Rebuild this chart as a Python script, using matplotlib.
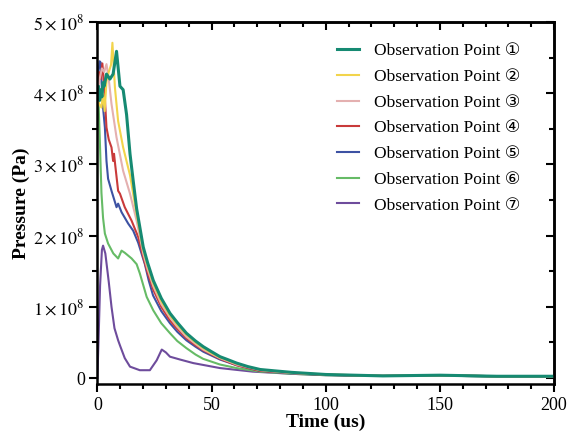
import numpy as np
import matplotlib
matplotlib.use('Agg')
import matplotlib.pyplot as plt
from matplotlib.ticker import MultipleLocator, FuncFormatter

plt.rcParams['font.family'] = ['Liberation Serif', 'DejaVu Sans']
plt.rcParams['mathtext.fontset'] = 'stix'

# pressure in units of 1e8 Pa, time in us
t1 = [0, 0.5, 1, 1.5, 2, 2.5, 3, 4, 5.5, 6.9, 8.4, 9.9, 11.3, 12.8, 14.3, 15.7, 17.2, 20.1, 22, 24.5, 28, 31.8, 35, 39, 43, 46.4, 50, 53.7, 57, 61, 66, 71.3, 78, 85, 90, 100, 125, 150, 175, 200]
p1 = [4.0, 4.1, 3.9, 4.05, 3.95, 4.15, 4.1, 4.27, 4.2, 4.27, 4.59, 4.1, 4.05, 3.7, 3.15, 2.77, 2.38, 1.84, 1.62, 1.37, 1.12, 0.91, 0.78, 0.63, 0.52, 0.44, 0.37, 0.30, 0.26, 0.21, 0.16, 0.12, 0.1, 0.08, 0.07, 0.05, 0.03, 0.04, 0.025, 0.025]

t2 = [0, 0.8, 1.8, 2.5, 3.2, 4, 5, 6, 6.6, 7.7, 9.1, 11.3, 14.3, 17.2, 20.1, 22, 24.5, 28, 31.8, 35, 39, 43, 46.4, 50, 53.7, 61, 71.3, 85, 100, 125, 150, 175, 200]
p2 = [3.95, 3.85, 3.8, 4.0, 3.75, 4.17, 4.3, 4.4, 4.71, 4.08, 3.61, 3.24, 2.85, 2.3, 1.8, 1.58, 1.33, 1.08, 0.88, 0.75, 0.61, 0.5, 0.42, 0.35, 0.29, 0.2, 0.115, 0.075, 0.05, 0.03, 0.04, 0.025, 0.025]

t3 = [0, 1, 2, 3, 4, 5, 6.2, 8.4, 11.3, 14.3, 17.2, 20.1, 22, 24.5, 28, 31.8, 35, 39, 43, 46.4, 53.7, 61, 71.3, 85, 100, 125, 150, 175, 200]
p3 = [4.0, 4.2, 4.35, 4.3, 4.41, 4.2, 3.85, 3.38, 2.91, 2.59, 2.21, 1.75, 1.53, 1.29, 1.04, 0.85, 0.72, 0.58, 0.48, 0.4, 0.28, 0.19, 0.11, 0.07, 0.05, 0.03, 0.04, 0.025, 0.025]

t4 = [0, 0.7, 1.5, 2.2, 3, 4, 5, 6.2, 6.9, 7.3, 7.8, 9.1, 9.9, 12, 15, 17.9, 20.1, 22, 24.5, 28, 31.8, 35, 39, 43, 46.4, 53.7, 61, 71.3, 85, 100, 125, 150, 175, 200]
p4 = [4.05, 4.3, 4.2, 4.42, 4.1, 3.52, 3.35, 3.24, 3.05, 3.15, 3.0, 2.63, 2.59, 2.4, 2.21, 1.98, 1.7, 1.48, 1.24, 1.0, 0.81, 0.69, 0.56, 0.46, 0.39, 0.27, 0.18, 0.1, 0.07, 0.045, 0.03, 0.04, 0.025, 0.025]

t5 = [0, 0.5, 1, 1.5, 1.8, 2.5, 3.3, 4, 4.7, 6.2, 8.4, 9.1, 10.6, 13.5, 15.7, 17.9, 20.8, 22.5, 24.4, 28, 31.8, 35, 39, 43, 46.4, 53.7, 61, 71.3, 85, 100, 125, 150, 175, 200]
p5 = [4.1, 4.3, 4.45, 4.43, 4.17, 3.8, 3.52, 3.05, 2.8, 2.63, 2.4, 2.45, 2.33, 2.17, 2.07, 1.9, 1.6, 1.37, 1.16, 0.94, 0.77, 0.65, 0.53, 0.44, 0.37, 0.26, 0.18, 0.1, 0.065, 0.045, 0.03, 0.04, 0.025, 0.025]

t6 = [0, 0.5, 1.1, 1.8, 2.5, 3.3, 4.7, 7, 9.1, 10.6, 12, 15, 17.2, 18.6, 21.6, 24.5, 28, 31.8, 35, 39, 43, 46.3, 53.7, 61, 71.3, 85, 100, 125, 150, 175, 200]
p6 = [4.1, 3.9, 3.33, 2.6, 2.25, 2.03, 1.89, 1.75, 1.68, 1.79, 1.76, 1.68, 1.6, 1.47, 1.14, 0.95, 0.77, 0.63, 0.52, 0.42, 0.33, 0.27, 0.19, 0.14, 0.09, 0.06, 0.04, 0.03, 0.035, 0.02, 0.02]

t7 = [0, 0.5, 1.2, 2, 2.5, 3.5, 5, 6.2, 7.5, 9.1, 10, 12, 14.3, 18.6, 23, 26, 28.2, 30, 31.8, 36.2, 42, 53.7, 68, 85, 100, 125, 150, 175, 200]
p7 = [0, 0.5, 1.3, 1.8, 1.86, 1.75, 1.35, 1.0, 0.7, 0.53, 0.45, 0.28, 0.16, 0.11, 0.11, 0.25, 0.40, 0.36, 0.3, 0.26, 0.21, 0.14, 0.09, 0.06, 0.04, 0.03, 0.035, 0.02, 0.02]

labels = ['Observation Point \u2460', 'Observation Point \u2461', 'Observation Point \u2462',
          'Observation Point \u2463', 'Observation Point \u2464', 'Observation Point \u2465',
          'Observation Point \u2466']
colors = ['#168a72', '#f2d44c', '#e4b0b0', '#c93a3a', '#3d52a3', '#66bb66', '#6e4c9c']
widths = [2.2, 1.5, 1.5, 1.5, 1.5, 1.5, 1.5]

series = [(t1, p1), (t2, p2), (t3, p3), (t4, p4), (t5, p5), (t6, p6), (t7, p7)]

fig = plt.figure(figsize=(5.76, 4.34), dpi=100)
ax = fig.add_axes([0.169, 0.115, 0.793, 0.834])

# draw back to front so teal is on top like the original
for i in range(len(series) - 1, -1, -1):
    t, p = series[i]
    ax.plot(t, np.array(p) * 1e8, color=colors[i], lw=widths[i], label=labels[i])

ax.set_xlim(0, 200)
ax.set_ylim(-0.085e8, 5e8)

ax.xaxis.set_major_locator(MultipleLocator(50))
ax.xaxis.set_minor_locator(MultipleLocator(10))
ax.yaxis.set_major_locator(MultipleLocator(1e8))
ax.yaxis.set_minor_locator(MultipleLocator(0.5e8))
ax.yaxis.set_major_formatter(FuncFormatter(
    lambda v, pos: '0' if abs(v) < 1 else r'$%d\times10^{8}$' % round(v / 1e8)))

ax.tick_params(which='major', direction='out', length=6, width=1.5, labelsize=13, pad=3)
ax.tick_params(which='minor', direction='out', length=3.5, width=1.5)

secx = ax.secondary_xaxis('top')
secx.xaxis.set_major_locator(MultipleLocator(50))
secx.xaxis.set_minor_locator(MultipleLocator(10))
secx.tick_params(which='major', direction='in', length=6, width=1.5, labeltop=False)
secx.tick_params(which='minor', direction='in', length=3.5, width=1.5)
secx.spines['top'].set_linewidth(1.8)

secy = ax.secondary_yaxis('right')
secy.yaxis.set_major_locator(MultipleLocator(1e8))
secy.yaxis.set_minor_locator(MultipleLocator(0.5e8))
secy.tick_params(which='major', direction='in', length=6, width=1.5, labelright=False)
secy.tick_params(which='minor', direction='in', length=3.5, width=1.5)
secy.spines['right'].set_linewidth(1.8)

for s in ax.spines.values():
    s.set_linewidth(1.8)

ax.set_xlabel('Time (us)', fontsize=14, fontweight='bold', labelpad=0)
ax.set_ylabel('Pressure (Pa)', fontsize=14, fontweight='bold', labelpad=2)

h, l = ax.get_legend_handles_labels()
ax.legend(h[::-1], l[::-1], loc='upper left', bbox_to_anchor=(0.49, 0.985),
          frameon=False, fontsize=12.5, handlelength=1.3, labelspacing=0.55,
          handletextpad=0.85)

fig.savefig('out.png', dpi=100)
